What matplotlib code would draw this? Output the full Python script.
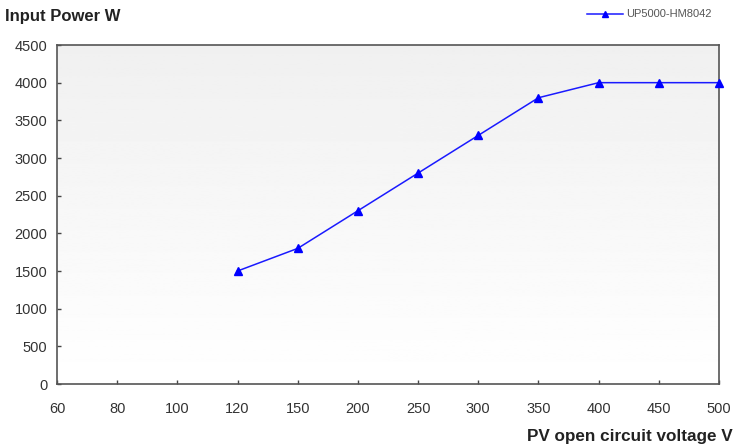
import numpy as np
import matplotlib
matplotlib.use("Agg")
import matplotlib.pyplot as plt
from matplotlib.lines import Line2D

# categories on the x axis (equally spaced)
voltage_labels = ["60", "80", "100", "120", "150", "200", "250", "300", "350", "400", "450", "500"]
# series: only 120 V and up has data
series_name = "UP5000-HM8042"
series_voltages = ["120", "150", "200", "250", "300", "350", "400", "450", "500"]
series_power = [1500, 1800, 2300, 2800, 3300, 3800, 4000, 4000, 4000]
y_ticks = [0, 500, 1000, 1500, 2000, 2500, 3000, 3500, 4000, 4500]

plt.rcParams["font.family"] = ["Liberation Sans", "DejaVu Sans"]

fig = plt.figure(figsize=(7.35, 4.44), dpi=100)
ax = fig.add_axes([57 / 735, 1 - 384 / 444, (719 - 57) / 735, (384 - 45) / 444])

# gray-to-white background gradient
grad = np.linspace(0.94, 1.0, 256).reshape(-1, 1)
ax.imshow(grad, extent=[0, 1, 0, 1], transform=ax.transAxes, cmap="gray",
          vmin=0, vmax=1, aspect="auto", zorder=0, origin="upper")

xpos = [voltage_labels.index(v) for v in series_voltages]
ax.plot(xpos, series_power, color="#1a1aff", lw=1.1, marker="^", ms=6,
        mec="#0000ff", mfc="#0000ff", clip_on=False, zorder=3)

ax.set_xlim(0, len(voltage_labels) - 1)
ax.set_ylim(0, 4500)
ax.set_xticks(range(len(voltage_labels)))
ax.set_xticklabels(voltage_labels)
ax.set_yticks(y_ticks)
ax.tick_params(direction="in", length=3, width=1, color="#444444",
               labelsize=10.5, labelcolor="#333333")
ax.tick_params(axis="x", pad=13)
ax.tick_params(axis="y", pad=7)
for s in ax.spines.values():
    s.set_color("#555555")
    s.set_linewidth(1.2)

fig.text(5 / 735, 1 - 17 / 444, "Input Power W", fontsize=12, fontweight="bold",
         va="center", ha="left", color="#222222")
fig.text(733 / 735, 1 - 436 / 444, "PV open circuit voltage V", fontsize=12.3,
         fontweight="bold", va="center", ha="right", color="#222222")

# small legend at the top right
fig.add_artist(Line2D([587 / 735, 623 / 735], [1 - 14 / 444, 1 - 14 / 444],
                      color="#1a1aff", lw=1.1, transform=fig.transFigure))
fig.add_artist(Line2D([605 / 735], [1 - 14 / 444], color="#0000ff", marker="^",
                      ms=4, transform=fig.transFigure))
fig.text(626 / 735, 1 - 14 / 444, series_name, fontsize=8, va="center",
         ha="left", color="#555555")

fig.savefig("out.png", dpi=100)
